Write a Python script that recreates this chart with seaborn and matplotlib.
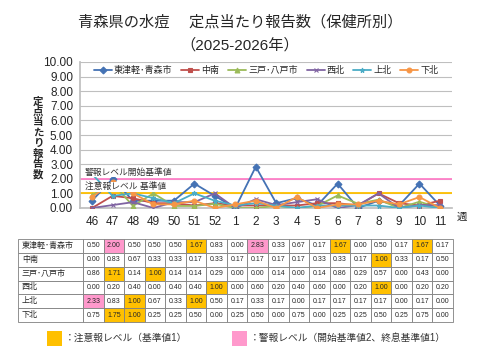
import matplotlib
matplotlib.use("Agg")
import matplotlib.pyplot as plt
import seaborn as sns
import pandas as pd
import numpy as np
from matplotlib.patches import Rectangle

sns.set_theme(style="white")
plt.rcParams['font.family'] = ['Liberation Sans', 'Noto Sans CJK JP', 'DejaVu Sans']

weeks = ["46", "47", "48", "49", "50", "51", "52", "1", "2", "3", "4", "5", "6", "7", "8", "9", "10", "11"]
legend_names = ["東津軽･青森市", "中南", "三戸･八戸市", "西北", "上北", "下北"]
table_names = ["東津軽･青森市", "中南", "三戸･八戸市", "西北", "上北", "下北"]

aomori = [0.50, 2.00, 0.50, 0.50, 0.50, 1.67, 0.83, 0.00, 2.83, 0.33, 0.67, 0.17, 1.67, 0.00, 0.50, 0.17, 1.67, 0.17]
chunan = [0.00, 0.83, 0.67, 0.33, 0.33, 0.17, 0.33, 0.17, 0.17, 0.17, 0.17, 0.33, 0.33, 0.17, 1.00, 0.33, 0.17, 0.50]
sannohe = [0.86, 1.71, 0.14, 1.00, 0.14, 0.14, 0.29, 0.00, 0.00, 0.14, 0.00, 0.14, 0.86, 0.29, 0.57, 0.00, 0.43, 0.00]
seihoku = [0.00, 0.20, 0.40, 0.00, 0.40, 0.40, 1.00, 0.00, 0.60, 0.20, 0.40, 0.60, 0.00, 0.20, 1.00, 0.00, 0.20, 0.20]
kamikita = [2.33, 0.83, 1.00, 0.67, 0.33, 1.00, 0.50, 0.17, 0.33, 0.17, 0.00, 0.17, 0.17, 0.17, 0.17, 0.00, 0.17, 0.00]
shimokita = [0.75, 1.75, 1.00, 0.25, 0.25, 0.50, 0.00, 0.25, 0.50, 0.00, 0.75, 0.00, 0.25, 0.25, 0.50, 0.25, 0.75, 0.00]
series = [aomori, chunan, sannohe, seihoku, kamikita, shimokita]

warning_level = 2.0
caution_level = 1.0

colors = ["#4472B4", "#C0504D", "#9BBB59", "#8064A2", "#4BACC6", "#F79646"]
markers = ["D", "s", "^", "x", "*", "o"]

fig = plt.figure(figsize=(4.8, 3.6), dpi=100, facecolor="white")
ax = fig.add_axes([80/480, 1-208/360, (452-80)/480, (208-62)/360])

ax.axhline(warning_level, color="#FF7FC8", lw=1.3, zorder=1)
ax.axhline(caution_level, color="#FFC000", lw=1.3, zorder=1)

for name, vals, col, mk in zip(legend_names, series, colors, markers):
    d = pd.DataFrame({"idx": np.arange(len(weeks)), "value": vals})
    sns.lineplot(data=d, x="idx", y="value", color=col, marker=mk, label=name,
                 lw=1.3, markersize=3.5, markeredgewidth=0.8, markeredgecolor=col,
                 ax=ax, sort=False, zorder=3)

ax.set_xlim(-0.59, 17.59)
ax.set_ylim(0, 10)
ax.set_yticks(np.arange(0, 11, 1))
ax.set_yticklabels([f"{v:.2f}" for v in range(11)], fontsize=8.5)
ax.set_xticks(range(len(weeks)))
ax.set_xticklabels(weeks, fontsize=8.5)
ax.tick_params(axis='x', length=0, pad=6)
ax.tick_params(axis='y', length=0, pad=5)
ax.grid(axis='y', color="#BFBFBF", lw=0.8)
ax.set_axisbelow(True)
for s in ["top", "right"]:
    ax.spines[s].set_visible(False)
ax.spines["left"].set_color("#BFBFBF")
ax.spines["bottom"].set_color("#BFBFBF")
ax.set_xlabel("")
ax.set_ylabel("")

ax.text(-0.35, 2.15, "警報レベル開始基準値", fontsize=6.3, color="#333333", zorder=5,
        va="bottom", ha="left", bbox=dict(facecolor="white", edgecolor="none", pad=0.5))
ax.text(-0.35, 1.15, "注意報レベル 基準値", fontsize=6.3, color="#333333", zorder=5,
        va="bottom", ha="left", bbox=dict(facecolor="white", edgecolor="none", pad=0.5))

fig.text(462/480, 1-217/360, "週", fontsize=7.5, ha="center", va="center")
fig.text(38/480, 1-138/360, "\n".join("定点当たり報告数"), fontsize=7.5, fontweight="bold",
         ha="center", va="center", linespacing=1.05)

leg = ax.legend(loc="upper center", bbox_to_anchor=(0.5, 0.985), ncol=6, frameon=True,
                fontsize=6.5, handlelength=2.0, columnspacing=1.0, handletextpad=0.2,
                borderaxespad=0.1, borderpad=0.1, edgecolor="white", facecolor="white", framealpha=1)
leg.get_frame().set_linewidth(0)

fig.text(0.5, 1-22/360, "青森県の水痘　 定点当たり報告数（保健所別）", fontsize=11, ha="center", va="center")
fig.text(0.5, 1-45/360, "（2025-2026年）", fontsize=11, ha="center", va="center")

# table
tax = fig.add_axes([18/480, 1-322/360, (453-18)/480, (322-239)/360])
tax.axis("off")
cell_text = [[f"{v:.2f}" for v in vals] for vals in series]
cell_colors = []
for vals in series:
    rc = []
    for v in vals:
        if v >= warning_level:
            rc.append("#FF99CC")
        elif v >= caution_level:
            rc.append("#FFC000")
        else:
            rc.append("white")
    cell_colors.append(rc)
full_text = [[n] + r for n, r in zip(table_names, cell_text)]
full_colors = [["white"] + r for r in cell_colors]
label_w = 65/435
data_w = (1 - label_w) / 18
tbl = tax.table(cellText=full_text, cellColours=full_colors, bbox=[0, 0, 1, 1],
                colWidths=[label_w] + [data_w]*18, cellLoc="center")
tbl.auto_set_font_size(False)
for (r, c), cell in tbl.get_celld().items():
    cell.set_edgecolor("#808080")
    cell.set_linewidth(0.6)
    if c == 0:
        cell.get_text().set_fontsize(5.8)
        cell._loc = "left"
        cell.get_text().set_horizontalalignment("left")
        cell.PAD = 0.06
    else:
        cell.get_text().set_fontsize(5.0)
        cell.PAD = 0.0

# bottom legend
fig.patches.append(Rectangle((47/480, 1-346/360), 15/480, 15/360, transform=fig.transFigure,
                             facecolor="#FFC000", edgecolor="none"))
fig.text(65/480, 1-338/360, "：注意報レベル（基準値1）", fontsize=7, va="center", ha="left", color="#333333")
fig.patches.append(Rectangle((232/480, 1-346/360), 15/480, 15/360, transform=fig.transFigure,
                             facecolor="#FF99CC", edgecolor="none"))
fig.text(250/480, 1-338/360, "：警報レベル（開始基準値2、終息基準値1）", fontsize=7, va="center", ha="left", color="#333333")

fig.savefig("out.png", dpi=100, facecolor="white")
